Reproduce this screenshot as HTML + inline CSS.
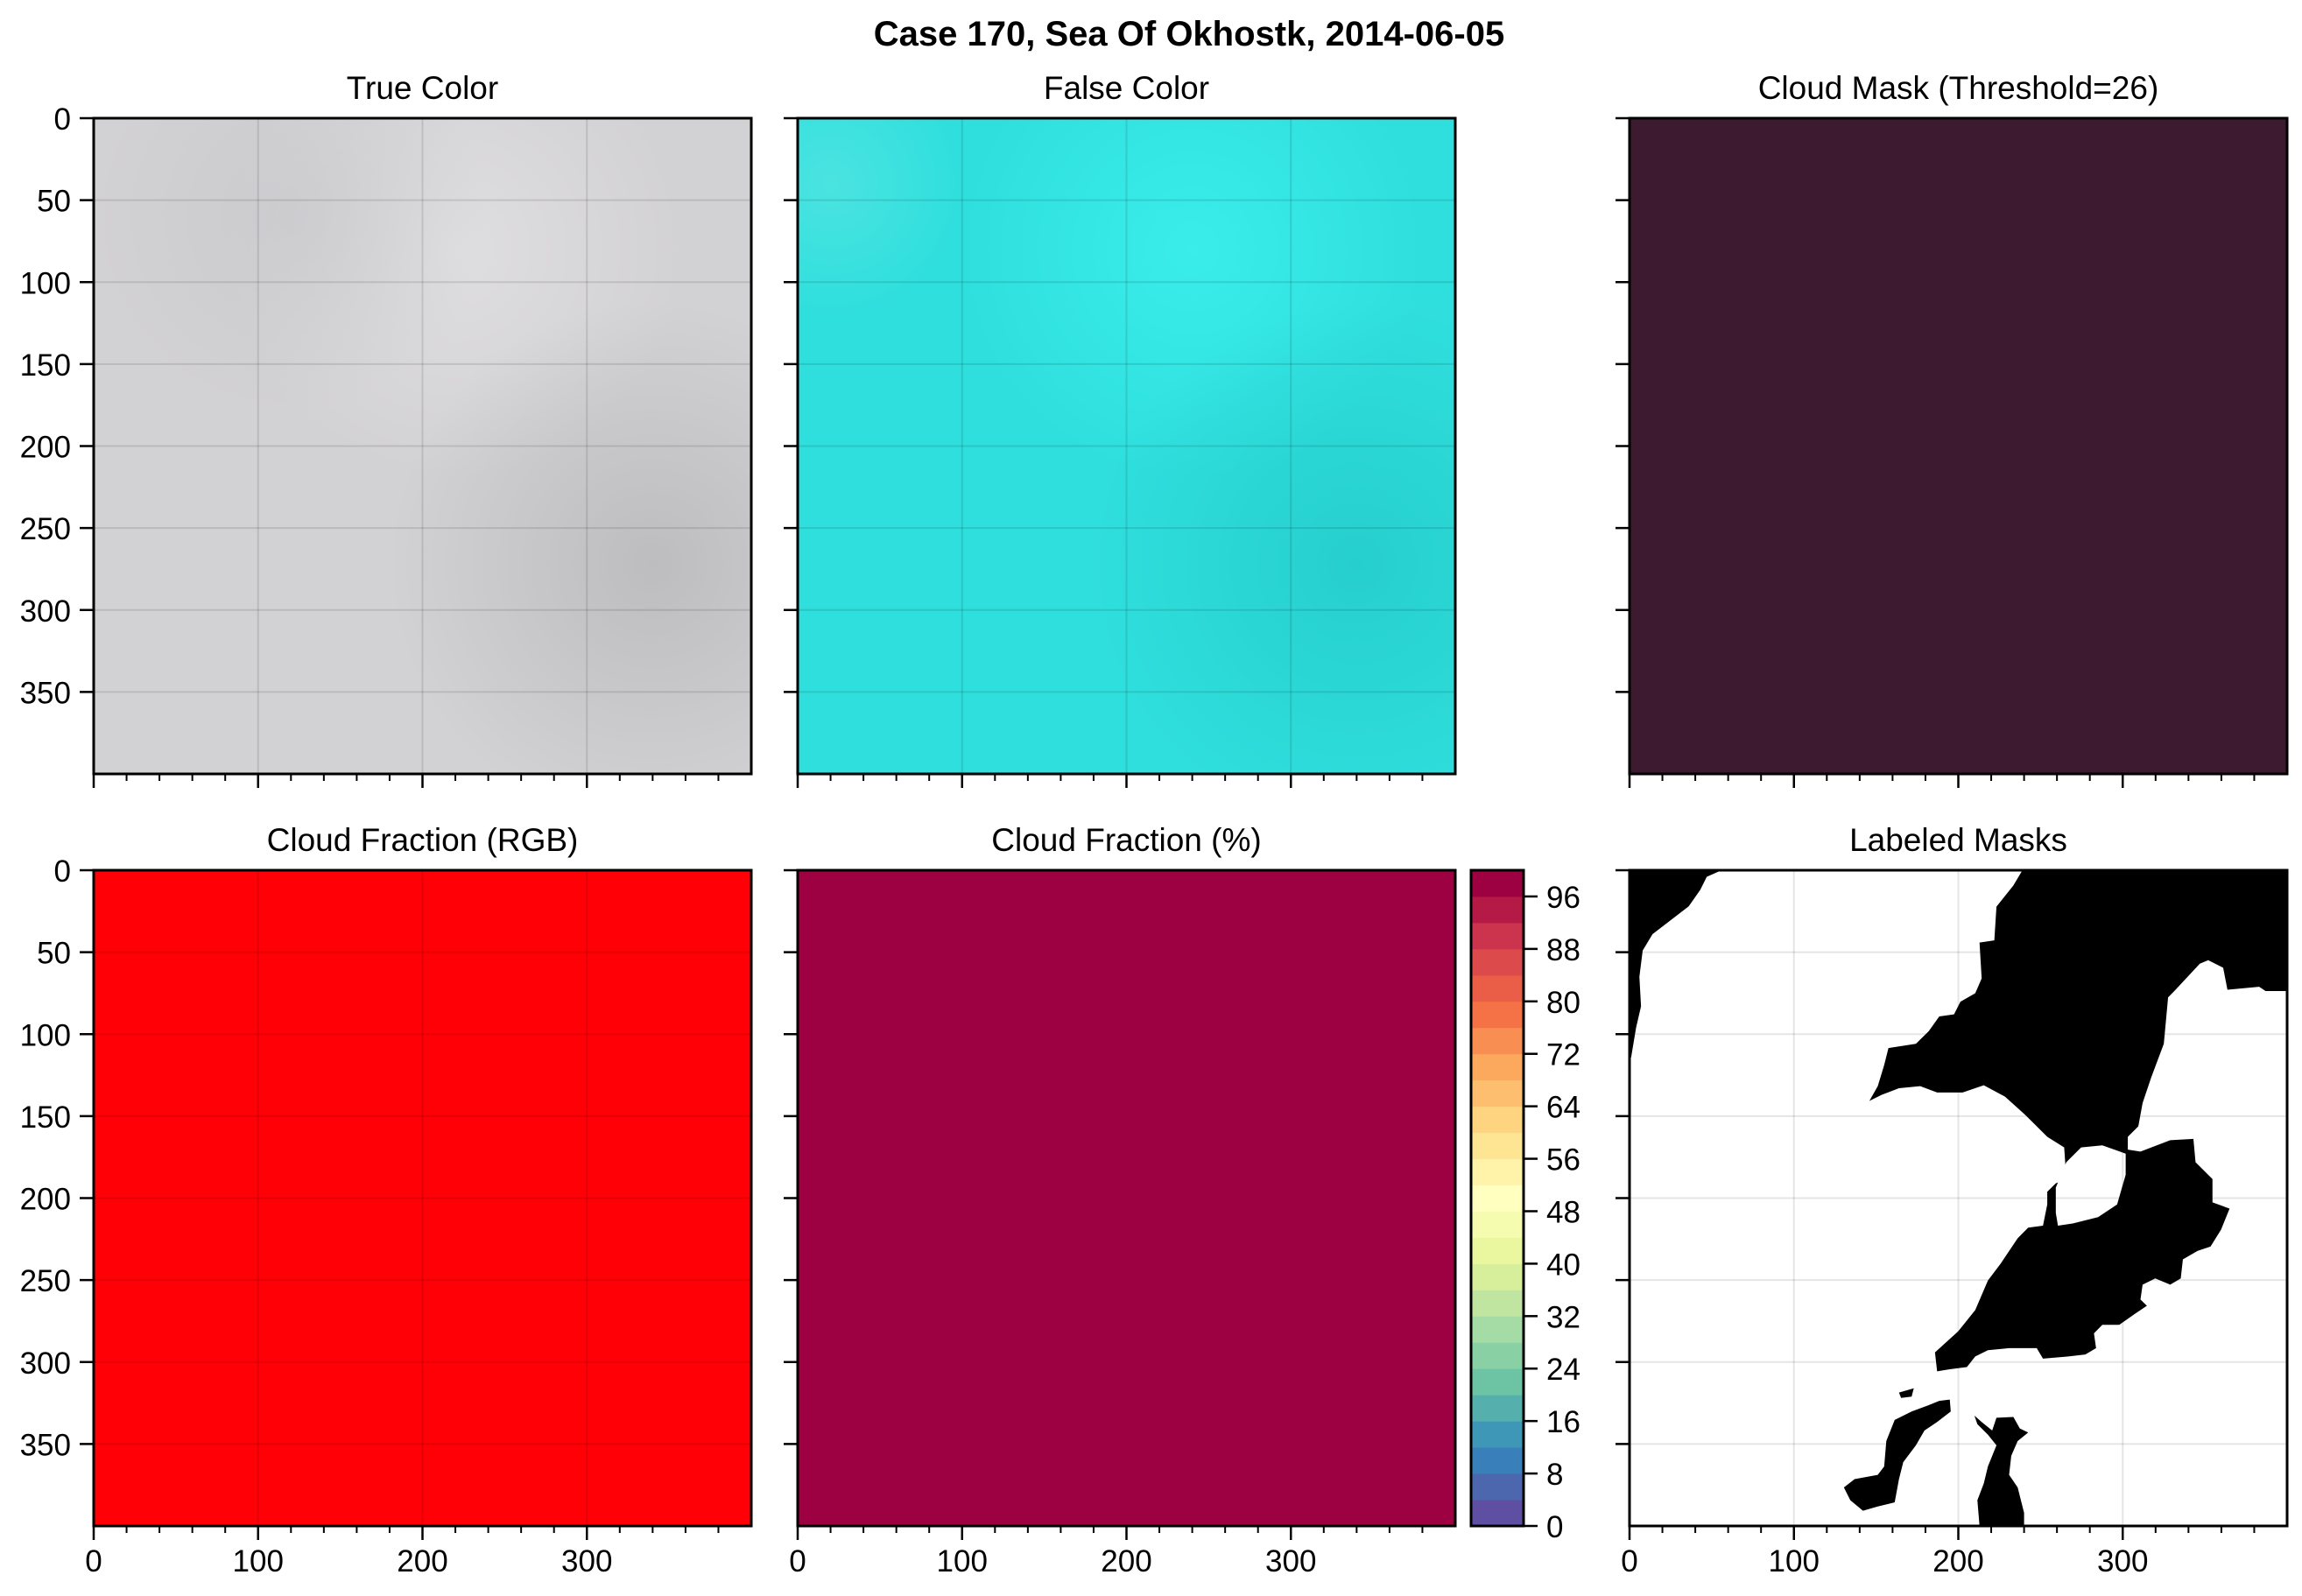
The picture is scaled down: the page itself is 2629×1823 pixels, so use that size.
<!DOCTYPE html>
<html><head><meta charset="utf-8">
<style>
html,body{margin:0;padding:0;background:#fff;}
svg{display:block;font-family:"Liberation Sans",Arial,sans-serif;}
</style></head>
<body>
<svg id="fig" width="2629" height="1823" viewBox="0 0 2629 1823" xmlns="http://www.w3.org/2000/svg">
<defs>
<radialGradient id="tcA" cx="0.3" cy="0.15" r="0.3"><stop offset="0" stop-color="#c6c6ca" stop-opacity="0.6"/><stop offset="1" stop-color="#c6c6ca" stop-opacity="0"/></radialGradient>
<radialGradient id="tcB" cx="0.85" cy="0.68" r="0.4"><stop offset="0" stop-color="#b4b4b6" stop-opacity="0.7"/><stop offset="1" stop-color="#b4b4b6" stop-opacity="0"/></radialGradient>
<radialGradient id="tcC" cx="0.55" cy="0.2" r="0.35"><stop offset="0" stop-color="#e2e1e3" stop-opacity="0.8"/><stop offset="1" stop-color="#e2e1e3" stop-opacity="0"/></radialGradient>
<radialGradient id="fcA" cx="0.6" cy="0.2" r="0.35"><stop offset="0" stop-color="#3ef3f0" stop-opacity="0.7"/><stop offset="1" stop-color="#3ef3f0" stop-opacity="0"/></radialGradient>
<radialGradient id="fcB" cx="0.85" cy="0.68" r="0.4"><stop offset="0" stop-color="#22c8c6" stop-opacity="0.7"/><stop offset="1" stop-color="#22c8c6" stop-opacity="0"/></radialGradient>
<radialGradient id="fcC" cx="0.05" cy="0.1" r="0.2"><stop offset="0" stop-color="#66e8e4" stop-opacity="0.5"/><stop offset="1" stop-color="#66e8e4" stop-opacity="0"/></radialGradient>
</defs>
<text x="1358" y="52" font-size="40" font-weight="bold" text-anchor="middle">Case 170, Sea Of Okhostk, 2014-06-05</text>
<g id="root"></g>
</svg>
<script>
// ---- data ----
const xMajorTicks = [0, 100, 200, 300];
const xMinorTicks = [20,40,60,80,120,140,160,180,220,240,260,280,320,340,360,380];
const yTicks = [0, 50, 100, 150, 200, 250, 300, 350];
const cbarLevels = [0,4,8,12,16,20,24,28,32,36,40,44,48,52,56,60,64,68,72,76,80,84,88,92,96,100];
const cbarTicks = [0,8,16,24,32,40,48,56,64,72,80,88,96];
const cloudFraction = 100;
const maskTopLeft = [[0,0],[56,0],[47,4],[43,12],[36,22],[27,29],[14,39],[8,49],[6,65],[7,83],[4,96],[1,114],[0,116]];
const maskMain = [[239,0],[400,0],[400,73.7],[386.9,73.7],[383,71.1],[363.7,72.9],[361.1,59.5],[352,54.9],[346.9,57],[331.4,73.7],[327.6,77.6],[325,105.9],[317.3,126.5],[312.1,142],[309.5,156.2],[303.1,162.6],[303.1,170.4],[310.8,171.6],[328.9,164.7],[343,163.9],[344.3,178.1],[354.6,188.4],[354.6,202.6],[365,206.4],[359.8,219.3],[353.4,229.6],[345.6,232.2],[336.6,237.4],[335.3,249],[328.9,252.8],[319.8,249],[312.1,252.8],[310.8,261.9],[314.7,265.7],[307,270.9],[297.9,277.3],[287.6,277.3],[282.5,282.5],[283.8,291.5],[277.3,295.4],[267,296.6],[251.5,297.9],[247.7,291.5],[230.9,291.5],[218,292.8],[210.3,296.6],[205.2,303.1],[194.8,304.4],[187.1,305.7],[185.8,294.1],[200,281.2],[210.3,268.3],[218,250.3],[225.8,239.9],[236.1,224.5],[242.5,218],[251.5,216.8],[254.1,203.9],[254.1,196.1],[259.3,191],[265.7,188.4],[264.4,169.1],[254.1,162.6],[241.2,149.7],[228.4,138.1],[215.5,131.2],[202.6,135.6],[187.1,135.6],[176.8,131.7],[163.9,133],[153.6,136.9],[145.9,140.7],[151,131.7],[154.9,118.8],[157.5,108.5],[174.2,105.9],[182,98.2],[188.4,89.2],[197.4,87.9],[201.3,80.2],[210.3,75],[214.2,66],[212.9,44.1],[221.9,42.8],[223.2,22.2],[233.5,9.3]];
const maskHole = [[259.3,193.6],[265.7,178.1],[274.7,169.1],[287.6,167.8],[301.8,172.9],[301.8,185.8],[296.6,203.9],[285,211.6],[269.6,215.5],[260.6,216.8],[259.3,209]];
const maskIslandA = [[130.4,376.5],[136.9,371.4],[151,368.8],[154.9,363.7],[156.2,348.2],[161.3,335.3],[171.6,330.2],[182,326.3],[188.4,323.7],[194.8,322.9],[195.4,330.2],[187.1,336.6],[179.4,341.8],[174.2,350.8],[166.5,361.1],[163.9,371.4],[161.3,385.6],[151,388.1],[142,390.7],[134.3,384.3]];
const maskIslandB = [[209.8,332.7],[214.2,336.6],[220.6,341.8],[223.2,334],[233.5,333.5],[237.4,340.5],[242.5,343],[236.1,348.2],[232.2,357.2],[230.9,368.8],[236.1,376.5],[240,392],[240,400],[212.9,400],[211.6,384.3],[215.5,374],[218,363.7],[223.2,350.8],[218,344.3],[211.6,337.9]];
const maskIslandC = [[163.9,318.6],[172.9,316],[171.6,321.1],[165.2,321.9]];

// ---- layout ----
const NS = "http://www.w3.org/2000/svg";
const root = document.getElementById('root');
const colX = [107, 911, 1861];
const rowY = [135, 994];
const W = 751, H = 749;
const spectral = ["#9e0142","#d53e4f","#f46d43","#fdae61","#fee08b","#ffffbf","#e6f598","#abdda4","#66c2a5","#3288bd","#5e4fa2"];
function hex(c){return [1,3,5].map(i=>parseInt(c.substr(i,2),16));}
function spec(t){ // t: 0 (low) .. 1 (high)
  const u=(1-t)*(spectral.length-1); const i=Math.min(Math.floor(u),spectral.length-2); const f=u-i;
  const a=hex(spectral[i]), b=hex(spectral[i+1]);
  return 'rgb('+a.map((v,k)=>Math.round(v+(b[k]-v)*f)).join(',')+')';
}
const nBins = cbarLevels.length-1;
function binColor(i){ return spec(i/(nBins-1)); }
function el(tag, attrs, parent){
  const e=document.createElementNS(NS,tag);
  for(const k in attrs) e.setAttribute(k,attrs[k]);
  (parent||root).appendChild(e); return e;
}
function mkScale(px0, len){ return v => px0 + v/400*len; }

function panel(ci, ri, name, title, opts){
  const x0=colX[ci], y0=rowY[ri];
  const sx=mkScale(x0,W), sy=mkScale(y0,H);
  const g=el('g',{});
  
  
  const t=el('text',{x:x0+W/2,y:y0-22,'font-size':37,'text-anchor':'middle'},g);
  t.textContent=title;
  
  
  const img=el('g',{},g);
  
  
  opts.draw(img, sx, sy, x0, y0);
  if(opts.grid){
    xMajorTicks.slice(1).forEach(v=>el('line',{x1:sx(v),x2:sx(v),y1:y0,y2:y0+H,stroke:opts.grid,'stroke-width':2},g));
    yTicks.slice(1).forEach(v=>el('line',{x1:x0,x2:x0+W,y1:sy(v),y2:sy(v),stroke:opts.grid,'stroke-width':2},g));
  }
  const fr=el('rect',{x:x0,y:y0,width:W,height:H,fill:'none',stroke:'#000','stroke-width':3},g);
  
  
  yTicks.forEach(v=>{
    el('line',{x1:x0-16,x2:x0,y1:sy(v),y2:sy(v),stroke:'#000','stroke-width':2.5},g);
    if(ci===0){
      const l=el('text',{x:x0-26,y:sy(v)+13,'font-size':35,'text-anchor':'end'},g);
      l.textContent=v;
      
      
    }
  });
  xMajorTicks.forEach(v=>{
    el('line',{x1:sx(v),x2:sx(v),y1:y0+H,y2:y0+H+16,stroke:'#000','stroke-width':2.5},g);
    if(ri===1){
      const l=el('text',{x:sx(v),y:y0+H+52,'font-size':35,'text-anchor':'middle'},g);
      l.textContent=v;
      
      
    }
  });
  xMinorTicks.forEach(v=>el('line',{x1:sx(v),x2:sx(v),y1:y0+H,y2:y0+H+8,stroke:'#000','stroke-width':2},g));
}
function poly(parent, pts, sx, sy, fill, name){
  const p=el('polygon',{points:pts.map(p=>sx(p[0])+','+sy(p[1])).join(' '),fill:fill},parent);
  
  
}

panel(0,0,'true-color-panel','True Color',{grid:'rgba(0,0,0,0.11)',draw:(g,sx,sy,x0,y0)=>{
  el('rect',{x:x0,y:y0,width:W,height:H,fill:'#d2d1d3'},g);
  el('rect',{x:x0,y:y0,width:W,height:H,fill:'url(#tcC)'},g);
  el('rect',{x:x0,y:y0,width:W,height:H,fill:'url(#tcA)'},g);
  el('rect',{x:x0,y:y0,width:W,height:H,fill:'url(#tcB)'},g);
}});
panel(1,0,'false-color-panel','False Color',{grid:'rgba(0,0,0,0.11)',draw:(g,sx,sy,x0,y0)=>{
  el('rect',{x:x0,y:y0,width:W,height:H,fill:'#2fdfdd'},g);
  el('rect',{x:x0,y:y0,width:W,height:H,fill:'url(#fcA)'},g);
  el('rect',{x:x0,y:y0,width:W,height:H,fill:'url(#fcC)'},g);
  el('rect',{x:x0,y:y0,width:W,height:H,fill:'url(#fcB)'},g);
}});
panel(2,0,'cloud-mask-panel','Cloud Mask (Threshold=26)',{grid:null,draw:(g,sx,sy,x0,y0)=>{
  el('rect',{x:x0,y:y0,width:W,height:H,fill:'#3e1a31'},g);
}});
panel(0,1,'cloud-fraction-rgb-panel','Cloud Fraction (RGB)',{grid:'rgba(0,0,0,0.1)',draw:(g,sx,sy,x0,y0)=>{
  el('rect',{x:x0,y:y0,width:W,height:H,fill:'#ff0006'},g);
}});
panel(1,1,'cloud-fraction-pct-panel','Cloud Fraction (%)',{grid:null,draw:(g,sx,sy,x0,y0)=>{
  const idx=Math.min(Math.floor(cloudFraction/4),nBins-1);
  el('rect',{x:x0,y:y0,width:W,height:H,fill:binColor(idx)},g);
}});
panel(2,1,'labeled-masks-panel','Labeled Masks',{grid:'rgba(0,0,0,0.1)',draw:(g,sx,sy,x0,y0)=>{
  el('rect',{x:x0,y:y0,width:W,height:H,fill:'#fff'},g);
  poly(g,maskTopLeft,sx,sy,'#000','mask-region-top-left');
  poly(g,maskMain,sx,sy,'#000','mask-region-main');
  poly(g,maskHole,sx,sy,'#fff','mask-hole');
  poly(g,maskIslandA,sx,sy,'#000','mask-island-a');
  poly(g,maskIslandB,sx,sy,'#000','mask-island-b');
  poly(g,maskIslandC,sx,sy,'#000','mask-island-c');
}});

const cb=el('g',{});


const cbX=1680, cbW=60, cbTop=994, cbBot=1743;
const cs = v => cbBot - v/100*(cbBot-cbTop);
for(let i=0;i<nBins;i++){
  const a=cbarLevels[i], b=cbarLevels[i+1];
  const r=el('rect',{x:cbX,y:cs(b),width:cbW,height:cs(a)-cs(b)+0.5,fill:binColor(i)},cb);
  
  
}
el('rect',{x:cbX,y:cbTop,width:cbW,height:cbBot-cbTop,fill:'none',stroke:'#000','stroke-width':3},cb);
cbarTicks.forEach(v=>{
  el('line',{x1:cbX+cbW,x2:cbX+cbW+16,y1:cs(v),y2:cs(v),stroke:'#000','stroke-width':2.5},cb);
  const l=el('text',{x:cbX+cbW+26,y:cs(v)+13,'font-size':35},cb);
  l.textContent=v;
  
  
});
</script>
</body></html>
